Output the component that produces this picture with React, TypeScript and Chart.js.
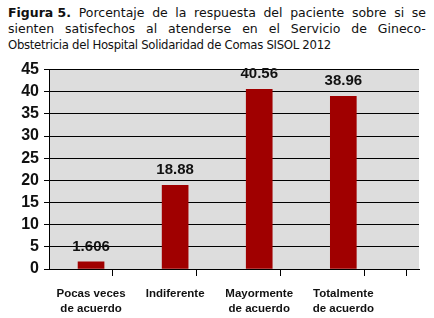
import React, { useEffect, useRef } from "react";
import { Chart, registerables } from "chart.js";

Chart.register(...registerables);

const categories: string[][] = [
  ["Pocas veces", "de acuerdo"],
  ["Indiferente"],
  ["Mayormente", "de acuerdo"],
  ["Totalmente", "de acuerdo"],
];
const values: number[] = [1.606, 18.88, 40.56, 38.96];
const valueLabels: string[] = ["1.606", "18.88", "40.56", "38.96"];
const yTicks: number[] = [0, 5, 10, 15, 20, 25, 30, 35, 40, 45];

const titleLine1 = ["Figura 5.", "Porcentaje", "de", "la", "respuesta", "del", "paciente", "sobre", "si", "se"];
const titleLine2 = ["sienten", "satisfechos", "al", "atenderse", "en", "el", "Servicio", "de", "Gineco-"];
const titleLine3 = "Obstetricia del Hospital Solidaridad de Comas SISOL 2012";

const bgPlugin = {
  id: "plotBg",
  beforeDraw(chart: any) {
    const { ctx, chartArea } = chart;
    ctx.save();
    ctx.fillStyle = "#dddddd";
    ctx.fillRect(chartArea.left, chartArea.top, chartArea.right - chartArea.left, chartArea.bottom - chartArea.top);
    ctx.restore();
  },
};

const valueLabelPlugin = {
  id: "valueLabels",
  afterDatasetsDraw(chart: any) {
    const { ctx } = chart;
    const meta = chart.getDatasetMeta(0);
    ctx.save();
    ctx.font = "bold 15px 'Liberation Sans', Arial, sans-serif";
    ctx.fillStyle = "#111111";
    ctx.textAlign = "center";
    ctx.textBaseline = "bottom";
    meta.data.forEach((el: any, i: number) => {
      ctx.fillText(valueLabels[i], el.x, el.y - 8);
    });
    ctx.restore();
  },
};

export default function App() {
  const ref = useRef<HTMLCanvasElement>(null);
  useEffect(() => {
    if (!ref.current) return;
    const chart = new Chart(ref.current, {
      type: "bar",
      data: {
        datasets: [
          {
            data: values.map((v, i) => ({ x: i, y: v })),
            backgroundColor: "#a00000",
            borderWidth: 0,
            barThickness: 26,
          },
        ],
      },
      plugins: [bgPlugin, valueLabelPlugin],
      options: {
        animation: false,
        responsive: false,
        events: [],
        layout: { padding: { top: 11, right: 15, left: 0, bottom: 0 } },
        plugins: { legend: { display: false }, tooltip: { enabled: false }, title: { display: false } },
        scales: {
          x: {
            type: "linear",
            min: -0.5,
            max: 3.9,
            offset: false,
            afterBuildTicks: (scale: any) => {
              scale.ticks = [-0.5, 0, 0.5, 1, 1.5, 2, 2.5, 3, 3.5].map((v) => ({ value: v }));
            },
            afterFit: (scale: any) => {
              scale.height = 49;
            },
            border: { display: true, color: "#000000", width: 1 },
            grid: {
              drawOnChartArea: false,
              drawTicks: true,
              tickLength: 7,
              tickColor: (c: any) => (Number.isInteger(c.tick?.value) ? "rgba(0,0,0,0)" : "#000000"),
            },
            ticks: {
              autoSkip: false,
              maxRotation: 0,
              padding: 10,
              color: "#111111",
              font: { family: "'Liberation Sans', Arial, sans-serif", size: 11.5, weight: "bold", lineHeight: 1.3 },
              callback: (v: any) => {
                const n = Number(v);
                return Number.isInteger(n) && n >= 0 && n < categories.length ? categories[n] : "";
              },
            },
          },
          y: {
            min: 0,
            max: 45,
            afterBuildTicks: (scale: any) => {
              scale.ticks = yTicks.map((v) => ({ value: v }));
            },
            afterFit: (scale: any) => {
              scale.width = 49;
            },
            border: { display: true, color: "#000000", width: 1 },
            grid: { color: "#000000", lineWidth: 1, tickLength: 5, drawTicks: true },
            ticks: {
              autoSkip: false,
              padding: 5,
              color: "#111111",
              font: { family: "'Liberation Sans', Arial, sans-serif", size: 16, weight: "bold" },
            },
          },
        },
      },
    } as any);
    return () => chart.destroy();
  }, []);

  const lineStyle: React.CSSProperties = {
    display: "flex",
    justifyContent: "space-between",
    whiteSpace: "nowrap",
    height: 16,
    lineHeight: "16px",
  };

  return (
    <div style={{ position: "fixed", left: 0, top: 0, width: 434, height: 318, background: "#ffffff", overflow: "hidden" }}>
      <div
        style={{
          position: "absolute",
          left: 8,
          top: 5,
          width: 418,
          fontFamily: "'DejaVu Sans', Verdana, sans-serif",
          fontSize: 12.5,
          color: "#111111",
        }}
      >
        <div style={lineStyle}>
          {titleLine1.map((w, i) => (
            <span key={i} style={i === 0 ? { fontWeight: "bold" } : undefined}>
              {w}
            </span>
          ))}
        </div>
        <div style={lineStyle}>
          {titleLine2.map((w, i) => (
            <span key={i}>{w}</span>
          ))}
        </div>
        <div
          style={{
            height: 16,
            lineHeight: "16px",
            whiteSpace: "nowrap",
            fontFamily: "'DejaVu Sans Condensed', 'DejaVu Sans', sans-serif",
            fontStretch: "condensed",
            fontSize: 13,
            letterSpacing: -0.3,
          }}
        >
          {titleLine3}
        </div>
      </div>
      <canvas ref={ref} width={434} height={263} style={{ position: "absolute", left: 0, top: 55, width: 434, height: 263 }} />
    </div>
  );
}
